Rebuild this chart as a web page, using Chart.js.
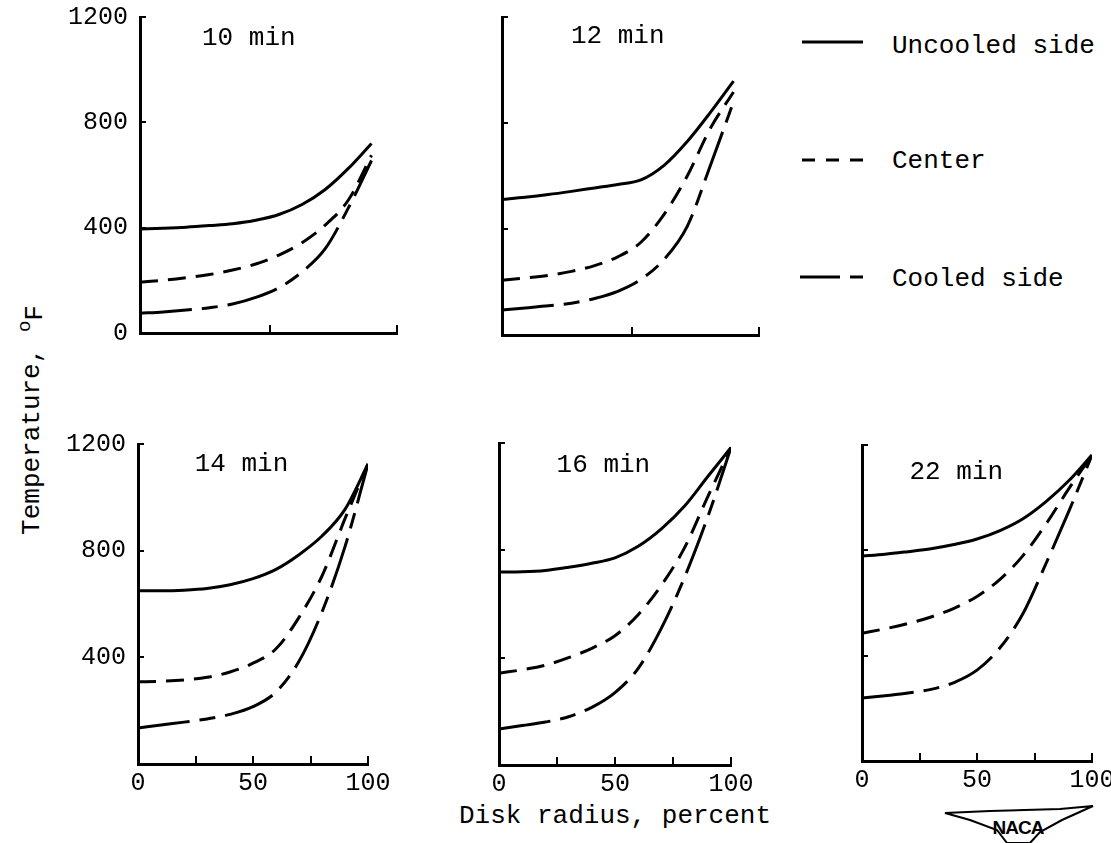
<!DOCTYPE html>
<html><head><meta charset="utf-8">
<script src="https://cdn.jsdelivr.net/npm/chart.js@4.4.0/dist/chart.umd.min.js"></script>
<style>
html,body{margin:0;padding:0;background:#fff;}
body{width:1111px;height:843px;position:relative;overflow:hidden;font-family:"Liberation Mono",monospace;color:#000;}
canvas{position:absolute;}
.t{position:absolute;font-size:26px;white-space:nowrap;line-height:26px;}
</style></head><body>
<svg style="position:absolute;left:0;top:0" width="1111" height="843">
  <line x1="802" y1="42" x2="863" y2="42" stroke="#000" stroke-width="3"/>
  <line x1="802" y1="160" x2="863" y2="160" stroke="#000" stroke-width="3" stroke-dasharray="13 11"/>
  <line x1="800" y1="277" x2="863" y2="277" stroke="#000" stroke-width="3" stroke-dasharray="40 10 13 10"/>
  <polygon points="945,813 990,811 1060,809 1093,806 1062,820 1040,832 1030,843 1007,843 997,830 970,820" fill="#fff" stroke="#000" stroke-width="2"/>
  <text x="1018" y="834" text-anchor="middle" font-family="Liberation Sans, sans-serif" font-weight="bold" font-size="19" letter-spacing="-1">NACA</text>
</svg>
<div class="t" style="left:892px;top:33px">Uncooled side</div>
<div class="t" style="left:892px;top:148px">Center</div>
<div class="t" style="left:892px;top:266px">Cooled side</div>
<div class="t" id="ytitle" style="left:33px;top:420px;transform:translate(-50%,-50%) rotate(-90deg);"></div>
<div class="t" id="xtitle" style="left:615px;top:803px;transform:translateX(-50%);"></div>
<script>
// ---- data ----
const radius = [0, 10, 20, 30, 40, 50, 60, 70, 80, 90, 100];
const t10Uncooled = [395, 398, 402, 408, 415, 428, 450, 488, 545, 625, 720];
const t10Center   = [193, 200, 210, 222, 239, 262, 296, 343, 410, 505, 675];
const t10Cooled   = [75, 80, 87, 96, 110, 135, 172, 232, 320, 475, 655];
const t12Uncooled = [512, 520, 530, 542, 555, 568, 585, 640, 730, 840, 958];
const t12Center   = [207, 215, 225, 240, 262, 295, 350, 455, 600, 780, 917];
const t12Cooled   = [94, 102, 110, 120, 138, 165, 210, 285, 410, 640, 880];
const t14Uncooled = [650, 650, 652, 658, 672, 695, 730, 785, 855, 955, 1125];
const t14Center   = [308, 310, 315, 325, 345, 378, 432, 550, 705, 920, 1125];
const t14Cooled   = [135, 146, 157, 169, 186, 215, 270, 385, 570, 815, 1125];
const t16Uncooled = [719, 720, 725, 737, 752, 772, 815, 880, 965, 1075, 1183];
const t16Center   = [342, 355, 372, 400, 435, 482, 560, 670, 810, 1000, 1183];
const t16Cooled   = [134, 147, 160, 180, 215, 270, 360, 510, 700, 925, 1183];
const t22Uncooled = [778, 785, 795, 806, 822, 843, 875, 920, 985, 1065, 1162];
const t22Center   = [485, 502, 522, 547, 580, 625, 690, 780, 900, 1035, 1162];
const t22Cooled   = [239, 248, 258, 272, 298, 345, 430, 560, 750, 950, 1162];
const panelTitles = ['10 min', '12 min', '14 min', '16 min', '22 min'];
const seriesNames = ['Uncooled side', 'Center', 'Cooled side'];
const tempTicks = [0, 400, 800, 1200];
const tempLabelsFull = ['0', '400', '800', '1200'];
const tempLabelsNoZero = ['', '400', '800', '1200'];
const radiusTicksTop = [0, 56, 111];
const radiusTicksBottom = [0, 25, 50, 75, 100];
const radiusLabelsBottom = ['0', '', '50', '', '100'];
const xAxisTitle = 'Disk radius, percent';

document.getElementById('ytitle').innerHTML =
  'Temperature, <span style="font-size:19px;position:relative;top:-9px">o</span><span style="position:relative;top:3px">F</span>';
document.getElementById('xtitle').textContent = xAxisTitle;

Chart.defaults.font.family = '"Liberation Mono", monospace';
Chart.defaults.font.size = 25;
Chart.defaults.color = '#000';

const dashes = [[], [18, 10], [52, 10, 16, 10]];

const panels = [
  {series: [t10Uncooled, t10Center, t10Cooled], area: {l: 140, t: 17, r: 397, b: 333}, xMax: 111, xTicks: radiusTicksTop, xLabels: null, yLabels: tempLabelsFull, tx: 47, ty: 21},
  {series: [t12Uncooled, t12Center, t12Cooled], area: {l: 502, t: 17, r: 759, b: 335}, xMax: 111, xTicks: radiusTicksTop, xLabels: null, yLabels: null, tx: 50, ty: 19},
  {series: [t14Uncooled, t14Center, t14Cooled], area: {l: 138, t: 444, r: 368, b: 764}, xMax: 100, xTicks: radiusTicksBottom, xLabels: radiusLabelsBottom, yLabels: tempLabelsNoZero, tx: 45, ty: 20},
  {series: [t16Uncooled, t16Center, t16Cooled], area: {l: 499, t: 443, r: 731, b: 765}, xMax: 100, xTicks: radiusTicksBottom, xLabels: radiusLabelsBottom, yLabels: null, tx: 45, ty: 22},
  {series: [t22Uncooled, t22Center, t22Cooled], area: {l: 862, t: 445, r: 1092, b: 761}, xMax: 100, xTicks: radiusTicksBottom, xLabels: radiusLabelsBottom, yLabels: null, tx: 41, ty: 27}
];

const panelTitlePlugin = {
  id: 'panelTitle',
  afterDraw(chart, args, opts) {
    const {ctx, chartArea, scales} = chart;
    ctx.save();
    ctx.font = '26px "Liberation Mono", monospace';
    ctx.fillStyle = '#000';
    ctx.textAlign = 'center';
    ctx.textBaseline = 'middle';
    ctx.fillText(opts.text, scales.x.getPixelForValue(opts.x), chartArea.top + opts.dy);
    ctx.restore();
  }
};

panels.forEach((p, i) => {
  const padL = 95, padR = 45, padT = 45, padB = 60;
  const w = p.area.r - p.area.l + padL + padR;
  const h = p.area.b - p.area.t + padT + padB;
  const cv = document.createElement('canvas');
  cv.width = w; cv.height = h;
  cv.style.left = (p.area.l - padL) + 'px';
  cv.style.top = (p.area.t - padT) + 'px';
  cv.style.width = w + 'px'; cv.style.height = h + 'px';
  document.body.appendChild(cv);
  new Chart(cv, {
    type: 'line',
    data: {
      datasets: p.series.map((arr, k) => ({
        label: seriesNames[k],
        data: radius.map((x, j) => ({x: x, y: arr[j]})),
        borderColor: '#000',
        borderWidth: 3,
        borderDash: dashes[k],
        pointRadius: 0,
        cubicInterpolationMode: 'monotone',
        fill: false
      }))
    },
    options: {
      responsive: false,
      animation: false,
      devicePixelRatio: 1,
      layout: {padding: {left: 0, top: padT, right: padR, bottom: 0}},
      plugins: {
        legend: {display: false},
        tooltip: {enabled: false},
        panelTitle: {text: panelTitles[i], x: p.tx, dy: p.ty}
      },
      scales: {
        x: {
          type: 'linear', min: 0, max: p.xMax,
          afterFit(s) { s.height = padB; },
          afterBuildTicks(s) { s.ticks = p.xTicks.map(v => ({value: v})); },
          ticks: {
            display: !!p.xLabels, padding: 12, maxRotation: 0, autoSkip: false,
            callback: (v, idx) => (p.xLabels ? p.xLabels[idx] : '')
          },
          grid: {drawOnChartArea: false, drawTicks: true, tickLength: -8, color: '#000', lineWidth: 2},
          border: {display: true, color: '#000', width: 3}
        },
        y: {
          type: 'linear', min: 0, max: 1200,
          afterFit(s) { s.width = padL; },
          afterBuildTicks(s) { s.ticks = tempTicks.map(v => ({value: v})); },
          ticks: {
            display: !!p.yLabels, padding: 18, autoSkip: false,
            callback: (v, idx) => (p.yLabels ? p.yLabels[idx] : '')
          },
          grid: {drawOnChartArea: false, drawTicks: true, tickLength: -6, color: '#000', lineWidth: 2},
          border: {display: true, color: '#000', width: 3}
        }
      }
    },
    plugins: [panelTitlePlugin]
  });
});
</script>
</body></html>
